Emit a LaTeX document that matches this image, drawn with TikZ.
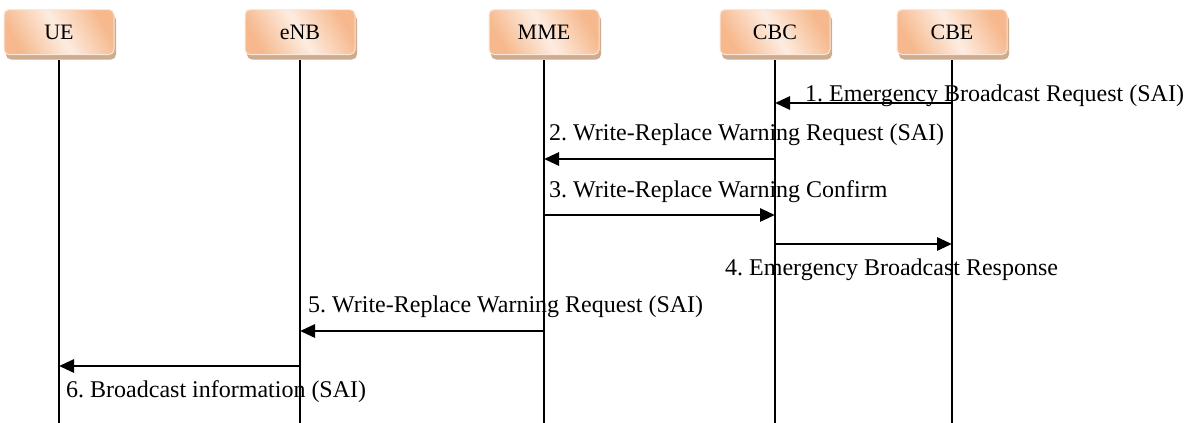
\documentclass[tikz,border=0pt]{standalone}
\usepackage{fontspec}
\setmainfont{Liberation Serif}
\usetikzlibrary{arrows.meta,shadows}

\definecolor{peachdark}{RGB}{246,184,140}
\definecolor{peachlight}{RGB}{253,236,224}
\definecolor{peachedge}{RGB}{252,230,216}
\definecolor{boxshadow}{RGB}{205,172,143}

\tikzset{
  entity/.style={draw=peachedge, line width=1pt, rounded corners=5pt,
    minimum width=110pt, minimum height=45pt, inner sep=0pt,
    left color=peachdark, right color=peachdark, middle color=peachlight,
    shading angle=-60,
    drop shadow={shadow xshift=2pt, shadow yshift=-5pt, fill=boxshadow, opacity=1},
    font=\fontsize{22}{25}\selectfont},
  lifeline/.style={line width=1.8pt, shorten <=5pt},
  msg/.style={line width=2.8pt, -{Triangle[length=15pt,width=13pt]}},
  msglabel/.style={anchor=base west, inner sep=0pt, font=\fontsize{24}{28}\selectfont},
}

\begin{document}
\frenchspacing
\begin{tikzpicture}[x=1pt,y=-1pt]
    \useasboundingbox (0,0) rectangle (1184,423);

    % entities and their lifelines
    \foreach \name/\txt/\x in {ue/UE/59,enb/eNB/300,mme/MME/544,cbc/CBC/775,cbe/CBE/952}{
      \node[entity] (\name) at (\x,32) {\txt};
      \coordinate (\name-end) at (\x,423);
      \draw[lifeline] (\name.south) -- (\name-end);
    }

    % messages
    \foreach \from/\to/\y in {cbe/cbc/103,cbc/mme/159,mme/cbc/215,cbc/cbe/244,mme/enb/331,enb/ue/366}{
      \draw[msg] (\from |- 0,\y) -- (\to |- 0,\y);
    }

    \node[msglabel] (lab1) at (805,101) {1. Emergency Broadcast Request (SAI)};
    \node[msglabel] (lab2) at (549,140) {2. Write-Replace Warning Request (SAI)};
    \node[msglabel] (lab3) at (549,197) {3. Write-Replace Warning Confirm};
    \node[msglabel] (lab4) at (725,275) {4. Emergency Broadcast Response};
    \node[msglabel] (lab5) at (308,312) {5. Write-Replace Warning Request (SAI)};
    \node[msglabel] (lab6) at (66,397) {6. Broadcast information (SAI)};
\end{tikzpicture}
\end{document}
